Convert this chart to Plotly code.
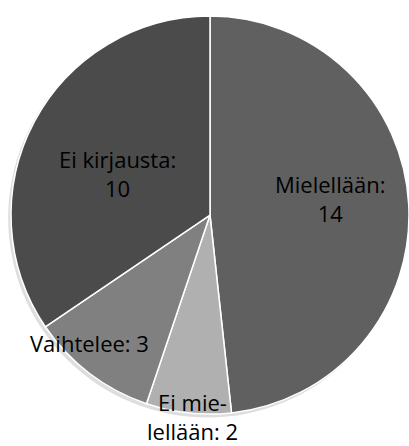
import plotly.graph_objects as go

labels = ["Mielellään", "Ei mielellään", "Vaihtelee", "Ei kirjausta"]
values = [14, 2, 3, 10]
colors = ["#606060", "#b0b0b0", "#808080", "#4b4b4b"]
label_texts = ["Mielellään:<br>14", "Ei mie-<br>lellään: 2", "Vaihtelee: 3", "Ei kirjausta:<br>10"]
# label anchor points (paper fractions) for the data labels
label_x = [0.807, 0.471, 0.218, 0.288]
label_y = [0.554, 0.066, 0.231, 0.610]

W, H = 409, 446

fig = go.Figure()
# subtle shadow
fig.add_trace(go.Pie(
    values=[1], marker=dict(colors=["#dedede"], line=dict(width=0)),
    textinfo="none", hoverinfo="skip", sort=False, showlegend=False,
    domain=dict(x=[0.020, 0.995], y=[0.060, 0.962]),
))
fig.add_trace(go.Pie(
    labels=labels, values=values, sort=False, direction="clockwise", rotation=0,
    marker=dict(colors=colors, line=dict(color="white", width=1.5)),
    textinfo="none", hoverinfo="label+value", showlegend=False,
    domain=dict(x=[0.0269, 1.0], y=[0.0695, 0.966]),
))

for t, x, y in zip(label_texts, label_x, label_y):
    fig.add_annotation(text=t, x=x, y=y, xref="paper", yref="paper",
                       showarrow=False, xanchor="center", yanchor="middle",
                       font=dict(family="Open Sans", size=22, color="#000000"))

fig.update_layout(width=W, height=H, margin=dict(l=0, r=0, t=0, b=0),
                  paper_bgcolor="white", plot_bgcolor="white")
fig.write_html("out.html", config={"displayModeBar": False},
               post_script="document.body.style.margin='0';")
